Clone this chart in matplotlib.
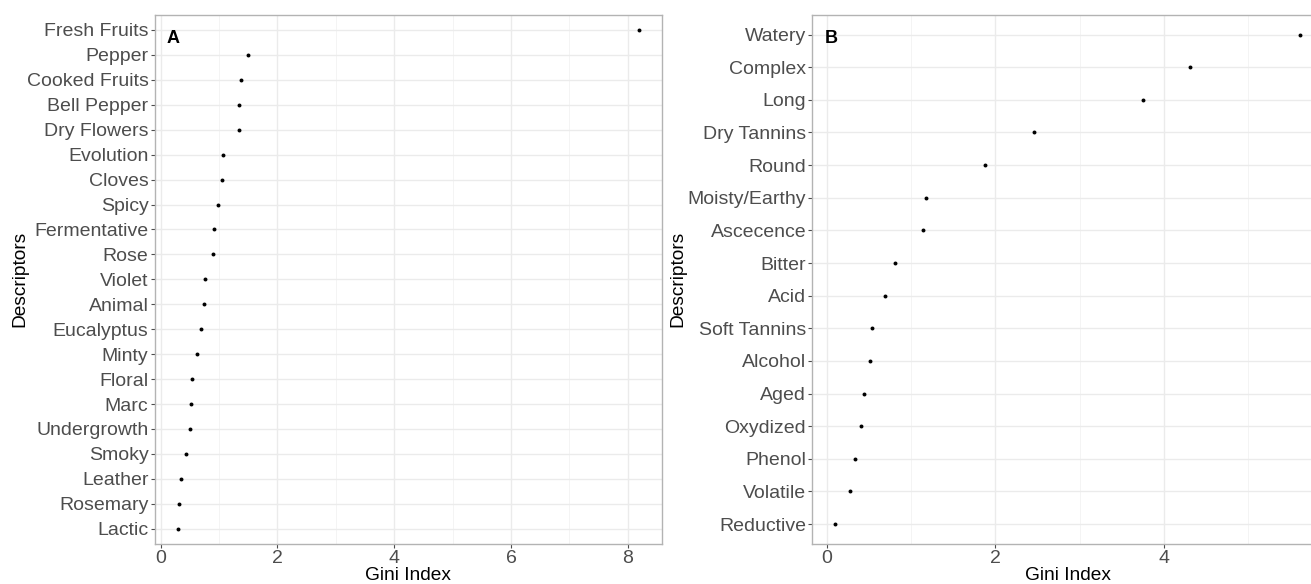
import matplotlib
matplotlib.use("Agg")
import matplotlib.pyplot as plt
from matplotlib.ticker import MultipleLocator

plt.rcParams['font.family'] = ['Liberation Sans', 'DejaVu Sans']

# Panel A data (top to bottom)
desc_a = ["Fresh Fruits", "Pepper", "Cooked Fruits", "Bell Pepper", "Dry Flowers",
          "Evolution", "Cloves", "Spicy", "Fermentative", "Rose", "Violet", "Animal",
          "Eucalyptus", "Minty", "Floral", "Marc", "Undergrowth", "Smoky", "Leather",
          "Rosemary", "Lactic"]
gini_a = [8.19, 1.49, 1.375, 1.34, 1.34, 1.065, 1.044, 0.986, 0.92, 0.905, 0.76,
          0.74, 0.69, 0.625, 0.54, 0.53, 0.51, 0.44, 0.345, 0.315, 0.295]

# Panel B data (top to bottom)
desc_b = ["Watery", "Complex", "Long", "Dry Tannins", "Round", "Moisty/Earthy",
          "Ascecence", "Bitter", "Acid", "Soft Tannins", "Alcohol", "Aged",
          "Oxydized", "Phenol", "Volatile", "Reductive"]
gini_b = [5.61, 4.31, 3.75, 2.457, 1.875, 1.176, 1.141, 0.816, 0.688, 0.54,
          0.511, 0.442, 0.407, 0.338, 0.279, 0.102]

W, H = 1311, 584
fig = plt.figure(figsize=(W / 100, H / 100), dpi=100)


def px_axes(left, right, top, bottom):
    return fig.add_axes([left / W, 1 - bottom / H, (right - left) / W, (bottom - top) / H])


def style(ax, labels, values, xlim, letter, ypad):
    n = len(labels)
    ypos = list(range(n - 1, -1, -1))
    ax.scatter(values, ypos, s=8, color="black", zorder=3, linewidths=0)
    ax.set_yticks(range(n))
    ax.set_yticklabels(labels[::-1])
    ax.set_ylim(-0.6, n - 1 + 0.6)
    ax.set_xlim(*xlim)
    ax.xaxis.set_major_locator(MultipleLocator(2))
    ax.xaxis.set_minor_locator(MultipleLocator(1))
    ax.grid(which="major", color="#ebebeb", linewidth=1.0, zorder=0)
    ax.grid(which="minor", axis="x", color="#f2f2f2", linewidth=0.6, zorder=0)
    ax.set_axisbelow(True)
    for sp in ax.spines.values():
        sp.set_color("#b3b3b3")
        sp.set_linewidth(1.0)
    ax.tick_params(axis="both", which="major", length=3, width=0.8, color="#4d4d4d",
                   labelcolor="#4d4d4d", labelsize=14, pad=1.5)
    ax.tick_params(axis="x", which="minor", length=0)
    ax.set_xlabel("Gini Index", fontsize=13.8, color="black", labelpad=0)
    ax.set_ylabel("Descriptors", fontsize=13.8, color="black", labelpad=ypad)
    ax.text(0.024, 0.972, letter, transform=ax.transAxes, fontsize=13,
            fontweight="bold", ha="left", va="top")


ax_a = px_axes(154.7, 661.7, 15, 543.7)
style(ax_a, desc_a, gini_a, (-0.1, 8.58), "A", -1.5)

ax_b = px_axes(812.5, 1323, 15, 543.7)
style(ax_b, desc_b, gini_b, (-0.167, 5.888), "B", 0.8)

fig.savefig("out.png", dpi=100)
